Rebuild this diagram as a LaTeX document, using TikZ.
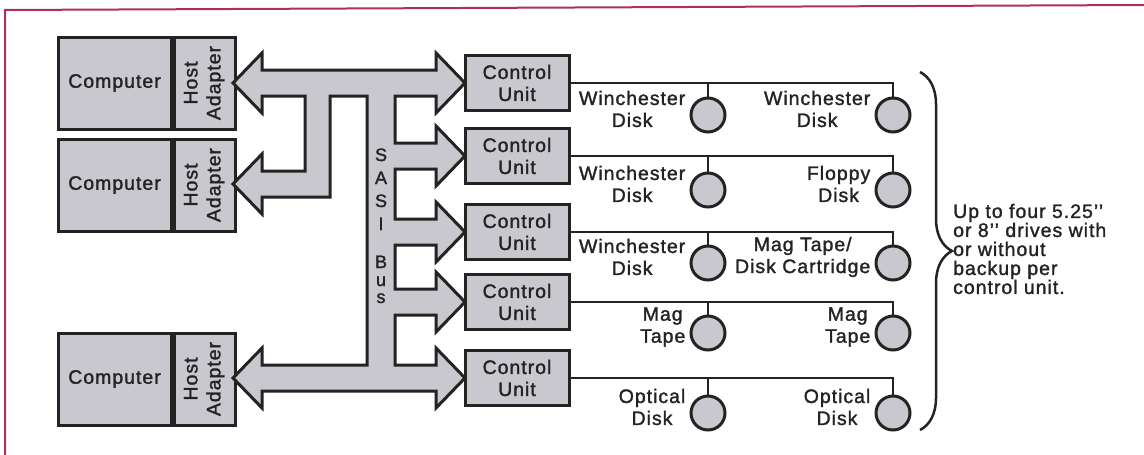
\documentclass[tikz,border=0pt]{standalone}
\usepackage{fontspec}
\setmainfont{Liberation Sans}[LetterSpace=5, FakeBold=1.5]
\usetikzlibrary{positioning,decorations.pathreplacing}

\definecolor{boxgray}{RGB}{200,200,206}
\definecolor{ink}{RGB}{35,35,35}
\definecolor{framered}{RGB}{175,45,95}

\begin{document}
\begin{tikzpicture}[
        x=1pt, y=-1pt,
        every node/.style={font=\fontsize{19.5}{22}\selectfont, text=ink},
        box/.style={
                rectangle,
                draw=ink,
                fill=boxgray,
                line width=3pt,
                inner sep=0pt
            },
        computer/.style={box, minimum width=113pt, minimum height=92pt},
        adapter/.style={box, minimum width=61pt, minimum height=92pt},
        ctrl/.style={box, minimum width=104pt, minimum height=55pt, align=center},
        drive/.style={circle, draw=ink, fill=boxgray, line width=3pt, minimum size=34pt, inner sep=0pt},
        devlabel/.style={align=center, inner sep=0pt},
        link/.style={draw=ink, line width=2.5pt},
        bus/.style={draw=ink, fill=boxgray, line width=3pt, line join=miter}
    ]
    \useasboundingbox (0,0) rectangle (1144,455);
    \draw[framered, line width=2pt] (5,455) -- (5,10) -- (1144,5);

    % computers with their host adapters
    \foreach \k/\yy in {1/83,2/185,3/379} {
        \node[computer] (comp\k) at (114.5,\yy) {Computer};
        \node[adapter, right=0pt of comp\k] (ha\k) {\rotatebox{90}{\begin{tabular}{@{}c@{}}Host\\[1pt]Adapter\end{tabular}}};
    }

    % the SASI bus
    \draw[bus] (233,83) -- (262,53) -- (262,70) -- (436,70) -- (436,53) -- (465,83) -- (436,113) -- (436,96)
        -- (395,96) -- (395,143) -- (436,143) -- (436,126) -- (465,156) -- (436,186) -- (436,169)
        -- (395,169) -- (395,219) -- (436,219) -- (436,202) -- (465,232) -- (436,262) -- (436,245)
        -- (395,245) -- (395,289) -- (436,289) -- (436,272) -- (465,302) -- (436,332) -- (436,315)
        -- (395,315) -- (395,365) -- (436,365) -- (436,348) -- (465,378) -- (436,408) -- (436,391)
        -- (262,391) -- (262,408) -- (233,378) -- (262,348) -- (262,365) -- (367,365) -- (367,96)
        -- (330,96) -- (330,197) -- (262,197) -- (262,214) -- (233,184) -- (262,154) -- (262,171)
        -- (305,171) -- (305,96) -- (262,96) -- (262,113) -- cycle;
    \foreach \ch/\yy [count=\k] in {S/161,A/184,S/207,I/230,B/268,u/286,s/303}
        \node[anchor=base, font=\fontsize{18}{22}\selectfont] (sasi\k) at (381,\yy) {\ch};

    % control units and their drives
    \foreach \k/\yy/\dy/\ltext/\rtext in {
            1/83/115/{Winchester\\Disk}/{Winchester\\Disk},
            2/156/190/{Winchester\\Disk}/{Floppy\\Disk},
            3/232/263/{Winchester\\Disk}/{Mag Tape/\\Disk Cartridge},
            4/302/333/{Mag\\Tape}/{Mag\\Tape},
            5/378/413/{Optical\\Disk}/{Optical\\Disk}} {
        \node[ctrl] (cu\k) at (517,\yy) {Control\\Unit};
        \node[drive] (dl\k) at (708,\dy) {};
        \node[drive] (dr\k) at (893,\dy) {};
        \draw[link] (cu\k.east) -| (dr\k.north);
        \draw[link] (dl\k.north) -- (dl\k.north |- cu\k.east);
        \node[devlabel, left=4pt of dl\k, yshift=6pt] (ll\k) {\ltext};
        \node[devlabel, left=4pt of dr\k, yshift=6pt] (lr\k) {\rtext};
    }

    % brace and note
    \draw[ink, line width=2.5pt, decorate, decoration={brace, amplitude=32pt}] (920,72) -- (920,430);
    \node[anchor=west, align=left, inner sep=0pt, font=\fontsize{19.5}{19}\selectfont] (note) at (953,249)
        {Up to four 5.25’’\\or 8’’ drives with\\or without\\backup per\\control unit.};
\end{tikzpicture}
\end{document}
